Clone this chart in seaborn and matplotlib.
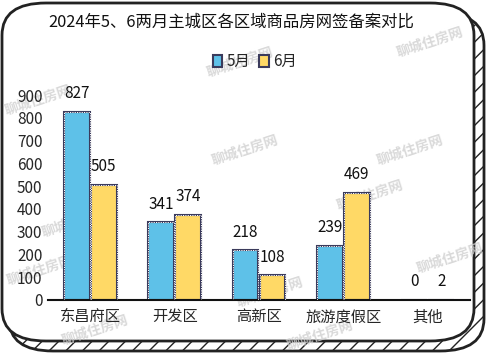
"""
2024年5、6两月主城区各区域商品房网签备案对比
"""

import numpy as np
import pandas as pd
import matplotlib
matplotlib.use("Agg")
import matplotlib.pyplot as plt
import seaborn as sns
from matplotlib.patches import FancyBboxPatch, Rectangle

# data
districts = ["东昌府区", "开发区", "高新区", "旅游度假区", "其他"]
may_sales = [827, 341, 218, 239, 0]
june_sales = [505, 374, 108, 469, 2]
months = ["5月", "6月"]
y_ticks = [0, 100, 200, 300, 400, 500, 600, 700, 800, 900]

df = pd.DataFrame({
    "区域": districts * 2,
    "套数": may_sales + june_sales,
    "月份": [months[0]] * len(districts) + [months[1]] * len(districts),
})

sns.set_theme(style="white")
plt.rcParams["font.family"] = ["Noto Sans CJK SC", "DejaVu Sans"]

W, H = 488, 358
fig = plt.figure(figsize=(W / 100, H / 100), dpi=100)

# rounded "3D" frame behind everything
back = FancyBboxPatch((9 / W, 7 / H), 475 / W, 338 / H,
                      boxstyle="round,pad=0,rounding_size=0.09",
                      transform=fig.transFigure, facecolor="white",
                      edgecolor="#222222", lw=2, hatch="//", zorder=0)
front = FancyBboxPatch((2 / W, 17 / H), 472 / W, 338 / H,
                       boxstyle="round,pad=0,rounding_size=0.09",
                       transform=fig.transFigure, facecolor="white",
                       edgecolor="#222222", lw=2, zorder=0.5)
fig.patches.extend([back, front])

# faint watermarks
marks = [(38, 100), (240, 62), (430, 42), (75, 222), (245, 150), (370, 195),
         (410, 150), (95, 330), (270, 292), (450, 258), (40, 270), (320, 335)]
for mx, my in marks:
    fig.text(mx / W, 1 - my / H, "聊城住房网", fontsize=10, color="#d0d0d0",
             rotation=18, ha="center", va="center", alpha=0.8,
             fontweight="bold", zorder=0.6)

ax = fig.add_axes([48 / W, 1 - 300 / H, 422 / W, 205 / H])
ax.set_zorder(2)
ax.patch.set_alpha(0)

sns.barplot(data=df, x="区域", y="套数", hue="月份", ax=ax,
            palette=["#5EC1E8", "#FFD966"], saturation=1, width=0.64,
            gap=0.05, edgecolor="#3b3b5c", linewidth=1.5, legend=True)

# dashed white trim on the bar outlines
for p in list(ax.patches):
    if p.get_height() > 0:
        ax.add_patch(Rectangle(p.get_xy(), p.get_width(), p.get_height(),
                               fill=False, edgecolor="white", lw=0.7,
                               linestyle=(0, (1.2, 1.2)), zorder=3))

for cont in ax.containers:
    ax.bar_label(cont, padding=7, fontsize=11, color="#111111")

ax.set_ylim(0, 900)
ax.set_xlim(-0.5, 4.5)
ax.set_yticks(y_ticks)
ax.tick_params(axis="y", labelsize=11, length=0, pad=4)
ax.tick_params(axis="x", labelsize=11, length=0, pad=6)
ax.set_xlabel("")
ax.set_ylabel("")
for side in ["top", "right", "left"]:
    ax.spines[side].set_visible(False)
ax.spines["bottom"].set_color("#111111")
ax.spines["bottom"].set_linewidth(1.5)

ax.legend(loc="upper center", bbox_to_anchor=(0.49, 1.27), ncol=2,
          frameon=False, fontsize=11, handlelength=0.6, handleheight=0.9,
          handletextpad=0.3, columnspacing=0.6)

fig.text(0.473, 1 - 22 / H, "2024年5、6两月主城区各区域商品房网签备案对比",
         ha="center", va="center", fontsize=11.8, color="#111111")

plt.savefig("out.png", dpi=100)
